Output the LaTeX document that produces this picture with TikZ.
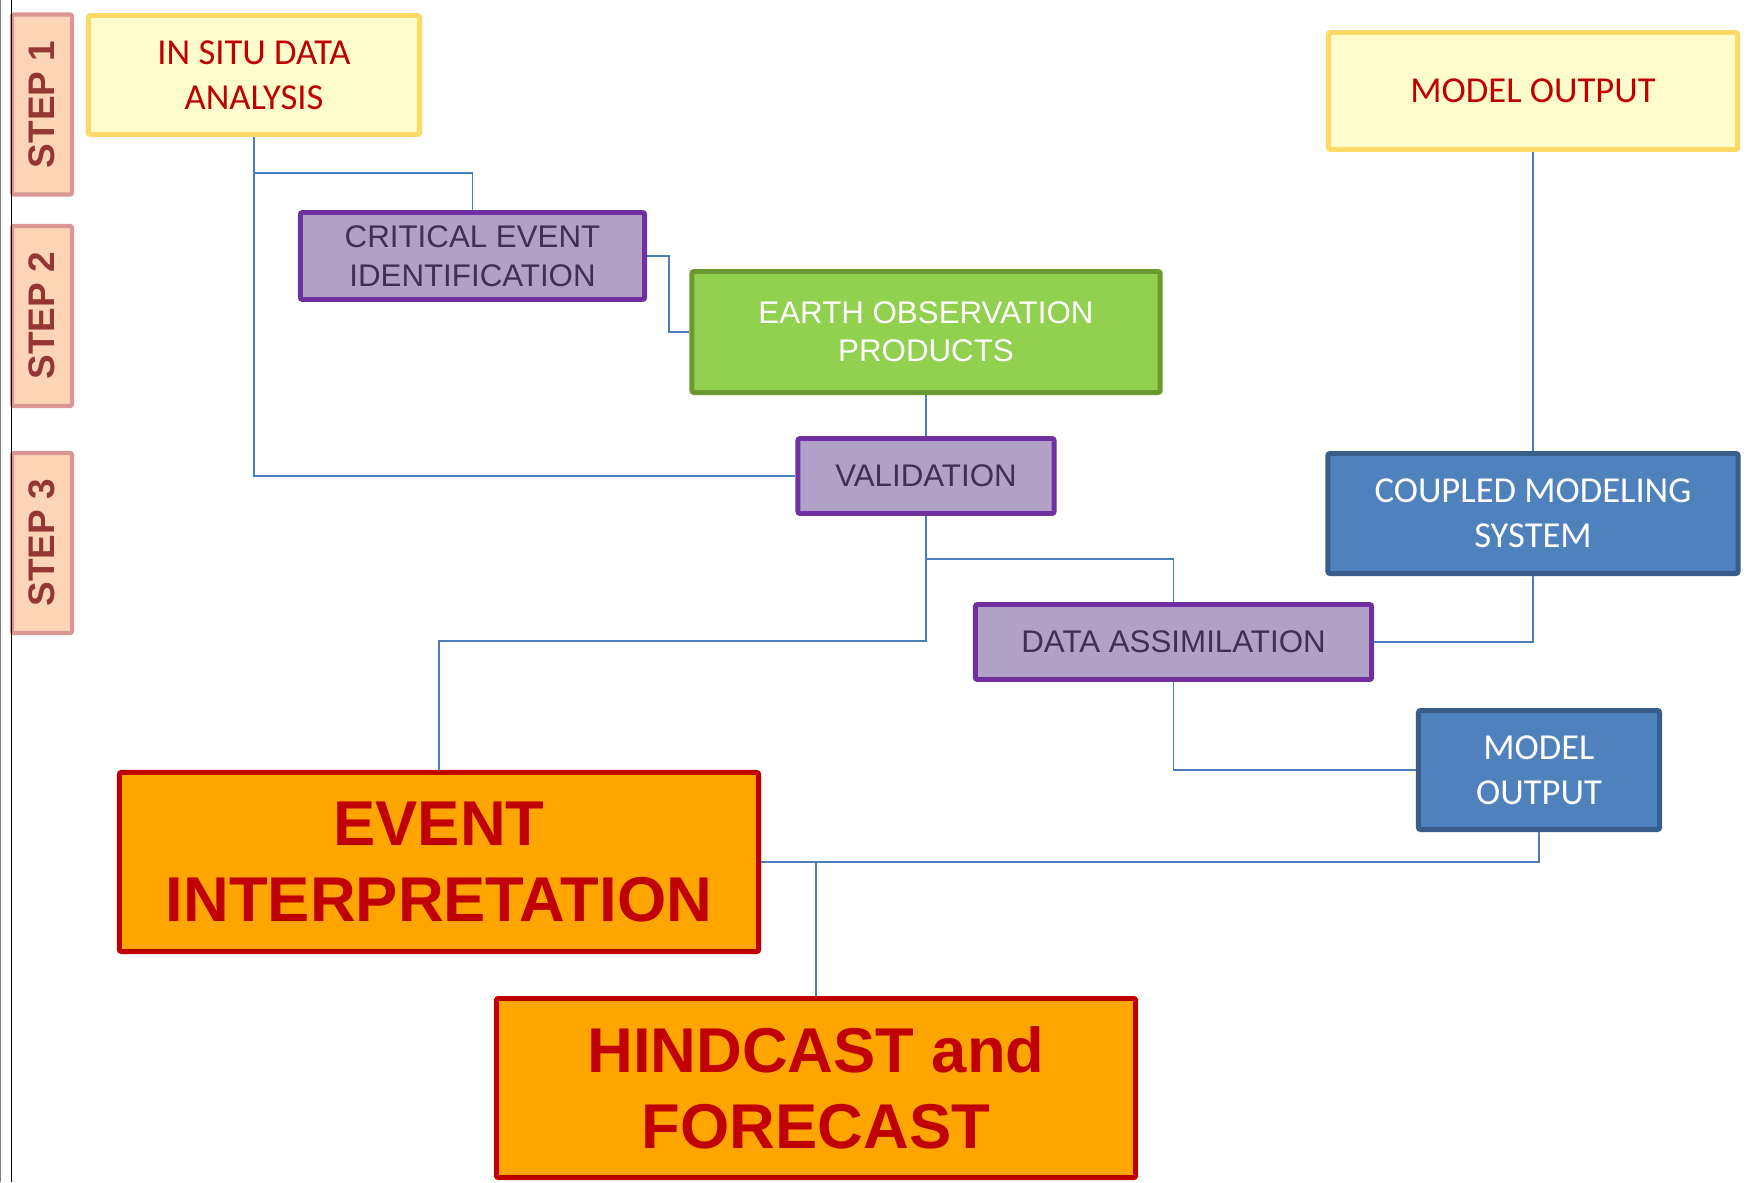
\documentclass[tikz,border=0pt]{standalone}
\usepackage{fontspec}
\setmainfont{Liberation Sans}
\newfontfamily\calib{Carlito}
\definecolor{stepfill}{HTML}{FBD5B5}
\definecolor{stepdraw}{HTML}{D99694}
\definecolor{steptext}{HTML}{943634}
\definecolor{yelfill}{HTML}{FFFDCC}
\definecolor{yeldraw}{HTML}{FFD966}
\definecolor{redtext}{HTML}{C00000}
\definecolor{purfill}{HTML}{B2A1C7}
\definecolor{purdraw}{HTML}{7030A0}
\definecolor{purtext}{HTML}{3F3151}
\definecolor{grnfill}{HTML}{92D050}
\definecolor{grndraw}{HTML}{6A9A2F}
\definecolor{blufill}{HTML}{4F81BD}
\definecolor{bludraw}{HTML}{385D8A}
\definecolor{orgfill}{HTML}{FFA500}
\definecolor{linkcol}{HTML}{4A7EBB}
\tikzset{
  box/.style={rectangle, line width=1.4pt, inner sep=0pt, align=center, rounded corners=0.6pt},
  stepbox/.style={box, draw=stepdraw, fill=stepfill, text=steptext, line width=1.2pt,
    rotate=90, minimum width=1.80cm, minimum height=0.60cm,
    font=\fontsize{10.5}{12}\selectfont\bfseries},
  yelbox/.style={box, draw=yeldraw, fill=yelfill, text=redtext,
    font=\calib\fontsize{10.4}{12.8}\selectfont},
  purbox/.style={box, draw=purdraw, fill=purfill, text=purtext,
    font=\fontsize{8.9}{11}\selectfont},
  grnbox/.style={box, draw=grndraw, fill=grnfill, text=white,
    font=\fontsize{8.9}{10.8}\selectfont},
  blubox/.style={box, draw=bludraw, fill=blufill, text=white,
    font=\calib\fontsize{10.4}{12.8}\selectfont},
  orgbox/.style={box, draw=redtext, fill=orgfill, text=redtext,
    font=\fontsize{18}{21.8}\selectfont\bfseries},
  link/.style={draw=linkcol, line width=0.55pt}
}
\begin{document}
\begin{tikzpicture}[x=0.01cm, y=-0.01cm]
\useasboundingbox (0,0) rectangle (1749,1182);
\fill[white] (0,0) rectangle (1749,1182);

% step labels
\node[stepbox] (s1) at (42,104.5) {STEP 1};
\node[stepbox] (s2) at (42,316) {STEP 2};
\node[stepbox] (s3) at (42,543) {STEP 3};

% boxes
\node[yelbox, minimum width=3.31cm, minimum height=1.19cm] (insitu) at (254,75) {IN SITU DATA\\ANALYSIS};
\node[purbox, minimum width=3.44cm, minimum height=0.87cm] (crit) at (472.5,256) {CRITICAL EVENT\\IDENTIFICATION};
\node[grnbox, minimum width=4.68cm, minimum height=1.21cm] (eo) at (926,332) {EARTH OBSERVATION\\PRODUCTS};
\node[purbox, minimum width=2.56cm, minimum height=0.75cm] (valid) at (926,476) {VALIDATION};
\node[purbox, minimum width=3.96cm, minimum height=0.75cm] (da) at (1173.5,642) {DATA ASSIMILATION};
\node[yelbox, minimum width=4.09cm, minimum height=1.17cm] (mo1) at (1533,91) {MODEL OUTPUT};
\node[blubox, minimum width=4.10cm, minimum height=1.20cm] (cms) at (1533,513.5) {COUPLED MODELING\\SYSTEM};
\node[blubox, minimum width=2.41cm, minimum height=1.19cm] (mo2) at (1539,770) {MODEL\\OUTPUT};
\node[orgbox, minimum width=6.39cm, minimum height=1.79cm] (event) at (439,862) {EVENT\\INTERPRETATION};
\node[orgbox, minimum width=6.39cm, minimum height=1.79cm] (hind) at (816,1088) {HINDCAST and\\FORECAST};

% junction coordinates
\coordinate (j1) at (254,173);
\coordinate (j2) at (669,256);
\coordinate (j3) at (926,559);
\coordinate (j4) at (926,641);

% connectors
\draw[link] (insitu.south) -- (j1) -| (crit.north);
\draw[link] (j1) |- (valid.west);
\draw[link] (crit.east) -- (j2) |- (eo.west);
\draw[link] (eo.south) -- (valid.north);
\draw[link] (valid.south) -- (j3) -| (da.north);
\draw[link] (j3) -- (j4) -| (event.north);
\draw[link] (da.east) -| (cms.south);
\draw[link] (mo1.south) -- (cms.north);
\draw[link] (da.south) |- (mo2.west);
\draw[link] (mo2.south) |- (event.east);
\draw[link] (hind.north) -- (hind.north |- event.east);

% page edge lines
\draw[gray, line width=0.3pt] (0.6,0) -- (0.6,1182);
\draw[black, line width=0.45pt] (11.5,0) -- (11.5,1182);
\end{tikzpicture}
\end{document}
